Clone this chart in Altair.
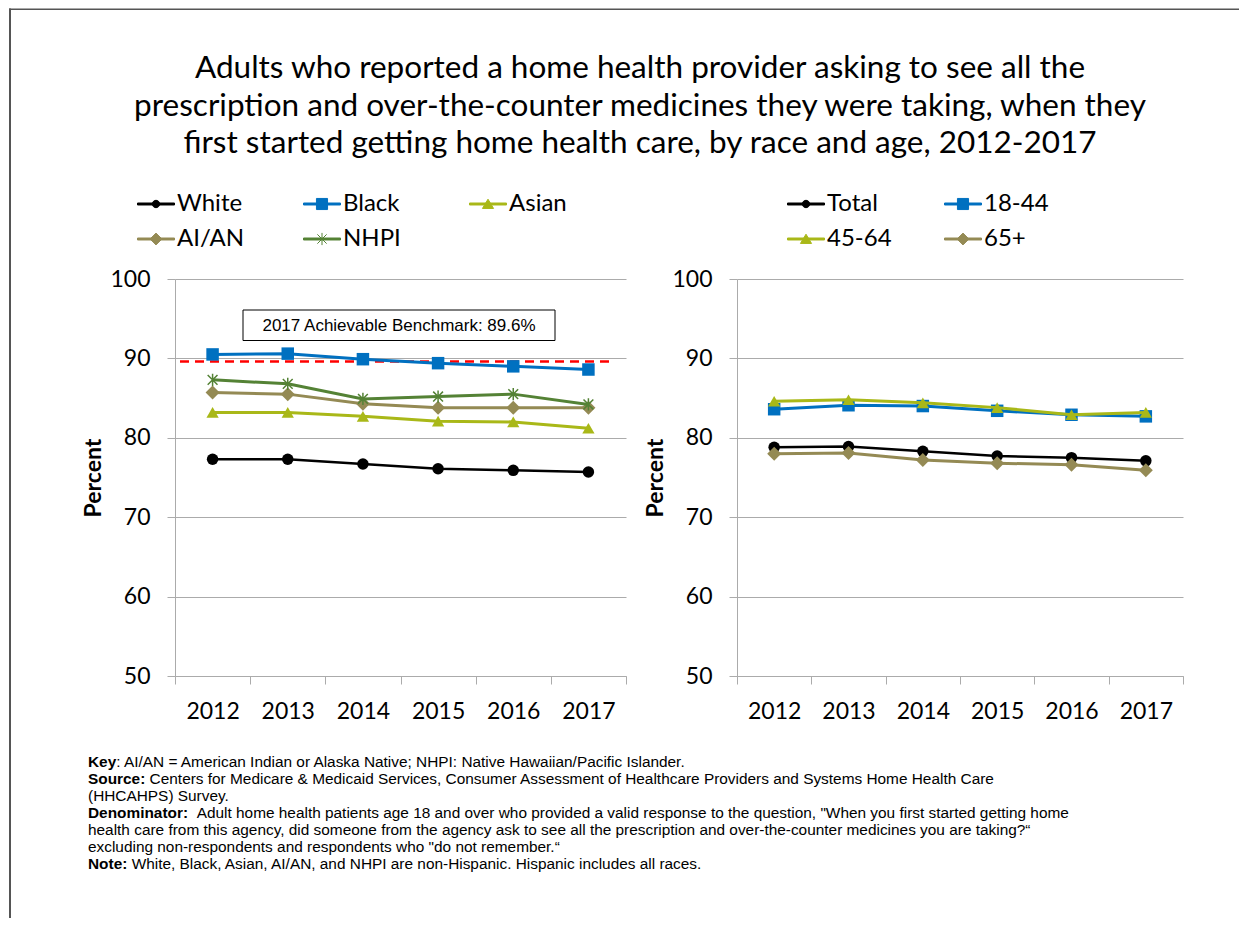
import altair as alt
import pandas as pd

# ---------------- data ----------------
years = ["2012", "2013", "2014", "2015", "2016", "2017"]

race_series = ["White", "Black", "Asian", "AI/AN", "NHPI"]
race_white = [77.3, 77.3, 76.7, 76.1, 75.9, 75.7]
race_black = [90.5, 90.6, 89.9, 89.4, 89.0, 88.6]
race_asian = [83.2, 83.2, 82.7, 82.1, 82.0, 81.2]
race_aian = [85.7, 85.5, 84.3, 83.8, 83.8, 83.8]
race_nhpi = [87.3, 86.8, 84.9, 85.2, 85.5, 84.2]

age_series = ["Total", "18-44", "45-64", "65+"]
age_total = [78.8, 78.9, 78.3, 77.7, 77.5, 77.1]
age_18_44 = [83.6, 84.1, 84.0, 83.4, 82.9, 82.7]
age_45_64 = [84.6, 84.8, 84.4, 83.8, 82.9, 83.2]
age_65_plus = [78.0, 78.1, 77.2, 76.8, 76.6, 75.9]

y_ticks = [50, 60, 70, 80, 90, 100]
benchmark_value = [89.6]
benchmark_text = ["2017 Achievable Benchmark: 89.6%"]

title_lines = [
    "Adults who reported a home health provider asking to see all the",
    "prescription and over-the-counter medicines they were taking, when they",
    "first started getting home health care, by race and age, 2012-2017",
]

note_bold = ["Key", "Source:", "", "Denominator:", "", "", "Note:"]
note_rest = [
    ": AI/AN = American Indian or Alaska Native; NHPI: Native Hawaiian/Pacific Islander.",
    " Centers for Medicare & Medicaid Services, Consumer Assessment of Healthcare Providers and Systems Home Health Care",
    "(HHCAHPS) Survey.",
    "  Adult home health patients age 18 and over who provided a valid response to the question, \"When you first started getting home",
    "health care from this agency, did someone from the agency ask to see all the prescription and over-the-counter medicines you are taking?\u201c",
    "excluding non-respondents and respondents who \"do not remember.\u201c",
    " White, Black, Asian, AI/AN, and NHPI are non-Hispanic. Hispanic includes all races.",
]

# ---------------- styles ----------------
FONT = "Lato"
GRID = "#ABABAB"
FRAME = "#555555"
NOTE_FONT = "Liberation Sans"
NOTE_SIZE = 15.4
NOTE_X = -87
# Arial Bold advance widths (units per 1000 em) of the bold prefixes; space = 278
bold_units = {"Key": 1834, "Source:": 3723, "Denominator:": 6500, "Note:": 2555, "": 0}
SPACE_UNITS = 278

race_colors = ["#000000", "#0070C0", "#A9B818", "#948A54", "#548235"]
age_colors = ["#000000", "#0070C0", "#A9B818", "#948A54"]

ASTER = "M-0.8,-0.8L0.8,0.8M-0.8,0.8L0.8,-0.8M0,-1L0,1"
marker = {
    "circle": ("circle", 132, True),
    "square": ("square", 156, True),
    "triangle": ("triangle-up", 150, True),
    "diamond": ("diamond", 196, True),
    "asterisk": (ASTER, 150, False),
}
LEG_LINE = "M-1,-0.054H1V0.054H-1Z"
legend_marker = {
    "circle": "M0.2,0A0.2,0.2 0 1,1 -0.2,0A0.2,0.2 0 1,1 0.2,0Z",
    "square": "M-0.3,-0.3H0.3V0.3H-0.3Z",
    "triangle": "M0,-0.26L0.3,0.24H-0.3Z",
    "diamond": "M0,-0.32L0.32,0L0,0.32L-0.32,0Z",
    "asterisk": "M-0.25,-0.25L0.25,0.25M-0.25,0.25L0.25,-0.25M0,-0.33V0.33",
}
race_shapes = ["circle", "square", "triangle", "diamond", "asterisk"]
age_shapes = ["circle", "square", "triangle", "diamond"]

PLOT_H = 397


def panel(field, names, values, colors, shapes, width, legend, bench=False):
    x = alt.X(
        "year:O", title=None, bandPosition=0.5,
        scale=alt.Scale(type="band", domain=years, paddingInner=0, paddingOuter=0),
        axis=alt.Axis(labelAngle=0, tickBand="extent", tickSize=8, tickColor=GRID,
                      domainColor=GRID, labelFont=FONT, labelFontSize=23,
                      labelColor="black", labelPadding=16, grid=False),
    )
    y = alt.Y(
        "value:Q", title="Percent",
        scale=alt.Scale(domain=[50, 100], nice=False, zero=False),
        axis=alt.Axis(values=y_ticks, tickSize=8, tickColor=GRID, domainColor=GRID,
                      gridColor=GRID, grid=True, labelFont=FONT, labelFontSize=23,
                      labelColor="black", labelPadding=17, titleFont=FONT,
                      titleFontSize=23, titleFontWeight="bold", titleColor="black",
                      titlePadding=4),
    )
    frames = [pd.DataFrame({"year": years, "value": v, field: n}) for n, v in zip(names, values)]
    full = pd.concat(frames, ignore_index=True)

    leg_paths = [LEG_LINE + legend_marker[s] for s in shapes]
    layers = [
        alt.Chart(full).mark_point(filled=True, opacity=0).encode(
            x=x, y=y,
            shape=alt.Shape(f"{field}:N", scale=alt.Scale(domain=names, range=leg_paths), legend=legend),
            fill=alt.Fill(f"{field}:N", scale=alt.Scale(domain=names, range=colors), legend=legend),
            stroke=alt.Stroke(f"{field}:N", scale=alt.Scale(domain=names, range=colors), legend=legend),
        )
    ]
    if bench:
        bdf = pd.DataFrame({"value": benchmark_value, "label": benchmark_text})
        layers.append(
            alt.Chart(bdf).mark_rule(color="#FF0000", strokeWidth=2.5, strokeDash=[9, 6]).encode(
                y=alt.Y("value:Q"), x=alt.value(5), x2=alt.value(434))
        )
        layers.append(
            alt.Chart(bdf).mark_rect(fill="white", stroke="black", strokeWidth=1).encode(
                x=alt.value(68), x2=alt.value(380), y=alt.value(31), y2=alt.value(61.5))
        )
        layers.append(
            alt.Chart(bdf).mark_text(font=NOTE_FONT, fontSize=17, color="black",
                                     align="center", baseline="middle").encode(
                x=alt.value(224), y=alt.value(46.5), text="label:N")
        )
    for df, col, shp in zip(frames, colors, shapes):
        sym, size, filled = marker[shp]
        base = alt.Chart(df).encode(x=x, y=y)
        layers.append(base.mark_line(color=col, strokeWidth=2.5 if col == "#000000" else 3))
        layers.append(base.mark_point(shape=sym, size=size, filled=filled, color=col,
                                      opacity=1, strokeWidth=1.5))
    return alt.layer(*layers).properties(width=width, height=PLOT_H)


def make_legend(cols, lx, colpad):
    return alt.Legend(
        title=None, orient="none", legendX=lx, legendY=-94, columns=cols,
        direction="horizontal",
        symbolSize=1369, symbolStrokeWidth=1, symbolOpacity=1,
        labelFont=FONT, labelFontSize=24, labelColor="black", labelOffset=2,
        columnPadding=colpad, rowPadding=4, gridAlign="all", padding=0, labelLimit=0,
    )


left = panel("race", race_series, [race_white, race_black, race_asian, race_aian, race_nhpi],
             race_colors, race_shapes, 451, make_legend(3, -38, 56), bench=True)
right = panel("age", age_series, [age_total, age_18_44, age_45_64, age_65_plus],
              age_colors, age_shapes, 446, make_legend(2, 50, 50))

panels = alt.hconcat(left, right, spacing=17).resolve_scale(
    shape="independent", fill="independent", stroke="independent",
    x="independent", y="independent")

# ---------------- footnotes (plus the outer frame lines) ----------------
note_layers = []
for i, (b, r) in enumerate(zip(note_bold, note_rest)):
    stripped = r.lstrip(" ")
    lead = len(r) - len(stripped)
    ndf = pd.DataFrame({"line": [i], "bold": [b], "rest": [stripped]})
    yenc = alt.Y("line:Q", scale=alt.Scale(domain=[6.5, -0.5]), axis=None)
    if b:
        note_layers.append(alt.Chart(ndf).mark_text(
            font=NOTE_FONT, fontSize=NOTE_SIZE, fontWeight="bold", align="left",
            baseline="middle", color="black").encode(x=alt.value(NOTE_X), y=yenc, text="bold:N"))
    offset = NOTE_X + (bold_units[b] + lead * SPACE_UNITS) * NOTE_SIZE / 1000
    note_layers.append(alt.Chart(ndf).mark_text(
        font=NOTE_FONT, fontSize=NOTE_SIZE, align="left", baseline="middle",
        color="black").encode(x=alt.value(offset), y=yenc, text="rest:N"))

frame_df = pd.DataFrame({"edge": ["top", "left"]})
note_layers.append(alt.Chart(frame_df).transform_filter("datum.edge == 'top'").mark_rect(
    color=FRAME, strokeWidth=0).encode(
    x=alt.value(-166), x2=alt.value(1064), y=alt.value(-744.5), y2=alt.value(-743)))
note_layers.append(alt.Chart(frame_df).transform_filter("datum.edge == 'left'").mark_rect(
    color=FRAME, strokeWidth=0).encode(
    x=alt.value(-166), x2=alt.value(-164), y=alt.value(-744.5), y2=alt.value(165)))

notes = alt.layer(*note_layers).properties(width=900, height=119)

chart = alt.vconcat(panels, notes, spacing=-715).resolve_scale(
    x="independent", y="independent"
).properties(
    title=alt.TitleParams(text=title_lines, font=FONT, fontSize=31.5, fontWeight="normal",
                          color="black", anchor="middle", lineHeight=37.5, offset=-151, dx=16),
    padding={"left": 1, "top": 0, "right": 0, "bottom": 0},
).configure(background="white", view=alt.ViewConfig(strokeWidth=0))

chart.save("out.html", embed_options={"renderer": "svg", "actions": False})
